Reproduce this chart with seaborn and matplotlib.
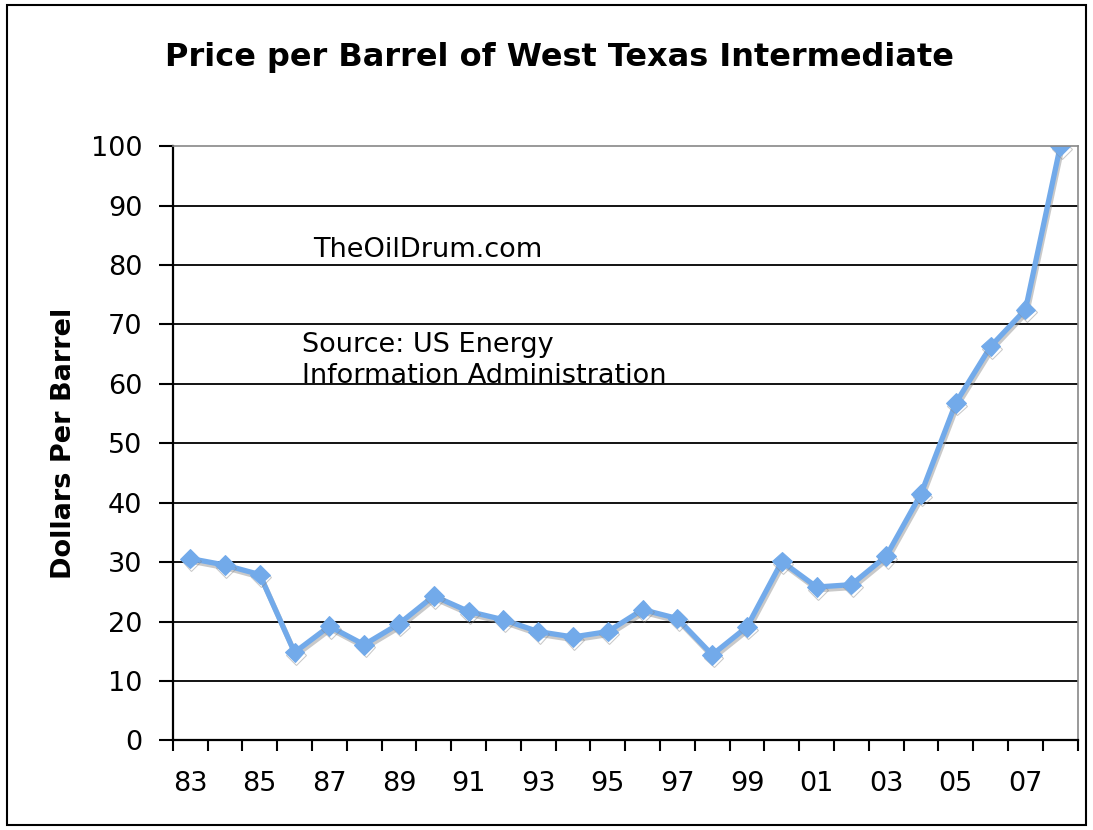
import matplotlib
matplotlib.use("Agg")
import matplotlib.pyplot as plt
import matplotlib.patheffects as pe
import seaborn as sns
import pandas as pd
import numpy as np

# --- DATA ---
years = ["83", "84", "85", "86", "87", "88", "89", "90", "91", "92", "93", "94", "95",
         "96", "97", "98", "99", "00", "01", "02", "03", "04", "05", "06", "07", "08"]
prices = [30.6, 29.5, 27.9, 14.8, 19.2, 16.1, 19.6, 24.3, 21.7, 20.3, 18.3, 17.4, 18.3,
          22.0, 20.5, 14.4, 19.1, 30.1, 25.8, 26.2, 31.0, 41.5, 56.8, 66.3, 72.5, 100.0]
yticks = list(range(0, 101, 10))

df = pd.DataFrame({"idx": np.arange(len(years)), "year": years, "price": prices})

sns.set_style("white")
plt.rcParams["font.family"] = ["DejaVu Sans"]
plt.rcParams["text.color"] = "black"
plt.rcParams["xtick.color"] = "black"
plt.rcParams["ytick.color"] = "black"
plt.rcParams["axes.labelcolor"] = "black"

fig = plt.figure(figsize=(10.93, 8.3), dpi=100)
ax = fig.add_axes([0.158, 0.108, 0.828, 0.716])

sns.lineplot(data=df, x="idx", y="price", ax=ax, color="#72aaea", linewidth=3.8,
             marker="D", markersize=10, markeredgecolor="#72aaea",
             path_effects=[pe.SimpleLineShadow(offset=(1, -2), shadow_color="#888888", alpha=0.45),
                           pe.Normal()])

ax.set_xlim(-0.5, len(years) - 0.5)
ax.set_ylim(0, 100)

# horizontal grid
ax.set_yticks(yticks)
ax.set_yticklabels([str(v) for v in yticks], fontsize=19.5)
for v in yticks[1:-1]:
    ax.axhline(v, color="black", linewidth=1.3, zorder=0)

# x axis: ticks between categories, labels on every other year
ax.set_xticks(np.arange(-0.5, len(years), 1.0))
ax.set_xticklabels([])
ax.set_xticks(df["idx"][::2], minor=True)
ax.set_xticklabels(years[::2], minor=True, fontsize=19.5)
ax.tick_params(axis="x", which="major", direction="out", length=8, width=1.5, color="black", bottom=True)
ax.tick_params(axis="x", which="minor", length=0, pad=22)
ax.tick_params(axis="y", direction="out", length=10, width=1.5, color="black", pad=12, left=True)

for s in ["left", "bottom"]:
    ax.spines[s].set_color("black")
    ax.spines[s].set_linewidth(1.6)
for s in ["top", "right"]:
    ax.spines[s].set_color("#888888")
    ax.spines[s].set_linewidth(1.2)

ax.set_xlabel("")
ax.set_ylabel("Dollars Per Barrel", fontsize=19.5, fontweight="bold", labelpad=10)

fig.text(0.512, 0.931, "Price per Barrel of West Texas Intermediate",
         ha="center", va="center", fontsize=23, fontweight="bold")
ax.text(0.155, 0.825, "TheOilDrum.com", transform=ax.transAxes, fontsize=19.5, va="center")
ax.text(0.143, 0.64, "Source: US Energy\nInformation Administration", transform=ax.transAxes,
        fontsize=19.5, va="center", linespacing=1.25)

# outer frame
fig.patches.append(plt.Rectangle((0.006, 0.006), 0.988, 0.988, transform=fig.transFigure,
                                 fill=False, edgecolor="black", linewidth=1.5))

fig.savefig("out.png", dpi=100)
